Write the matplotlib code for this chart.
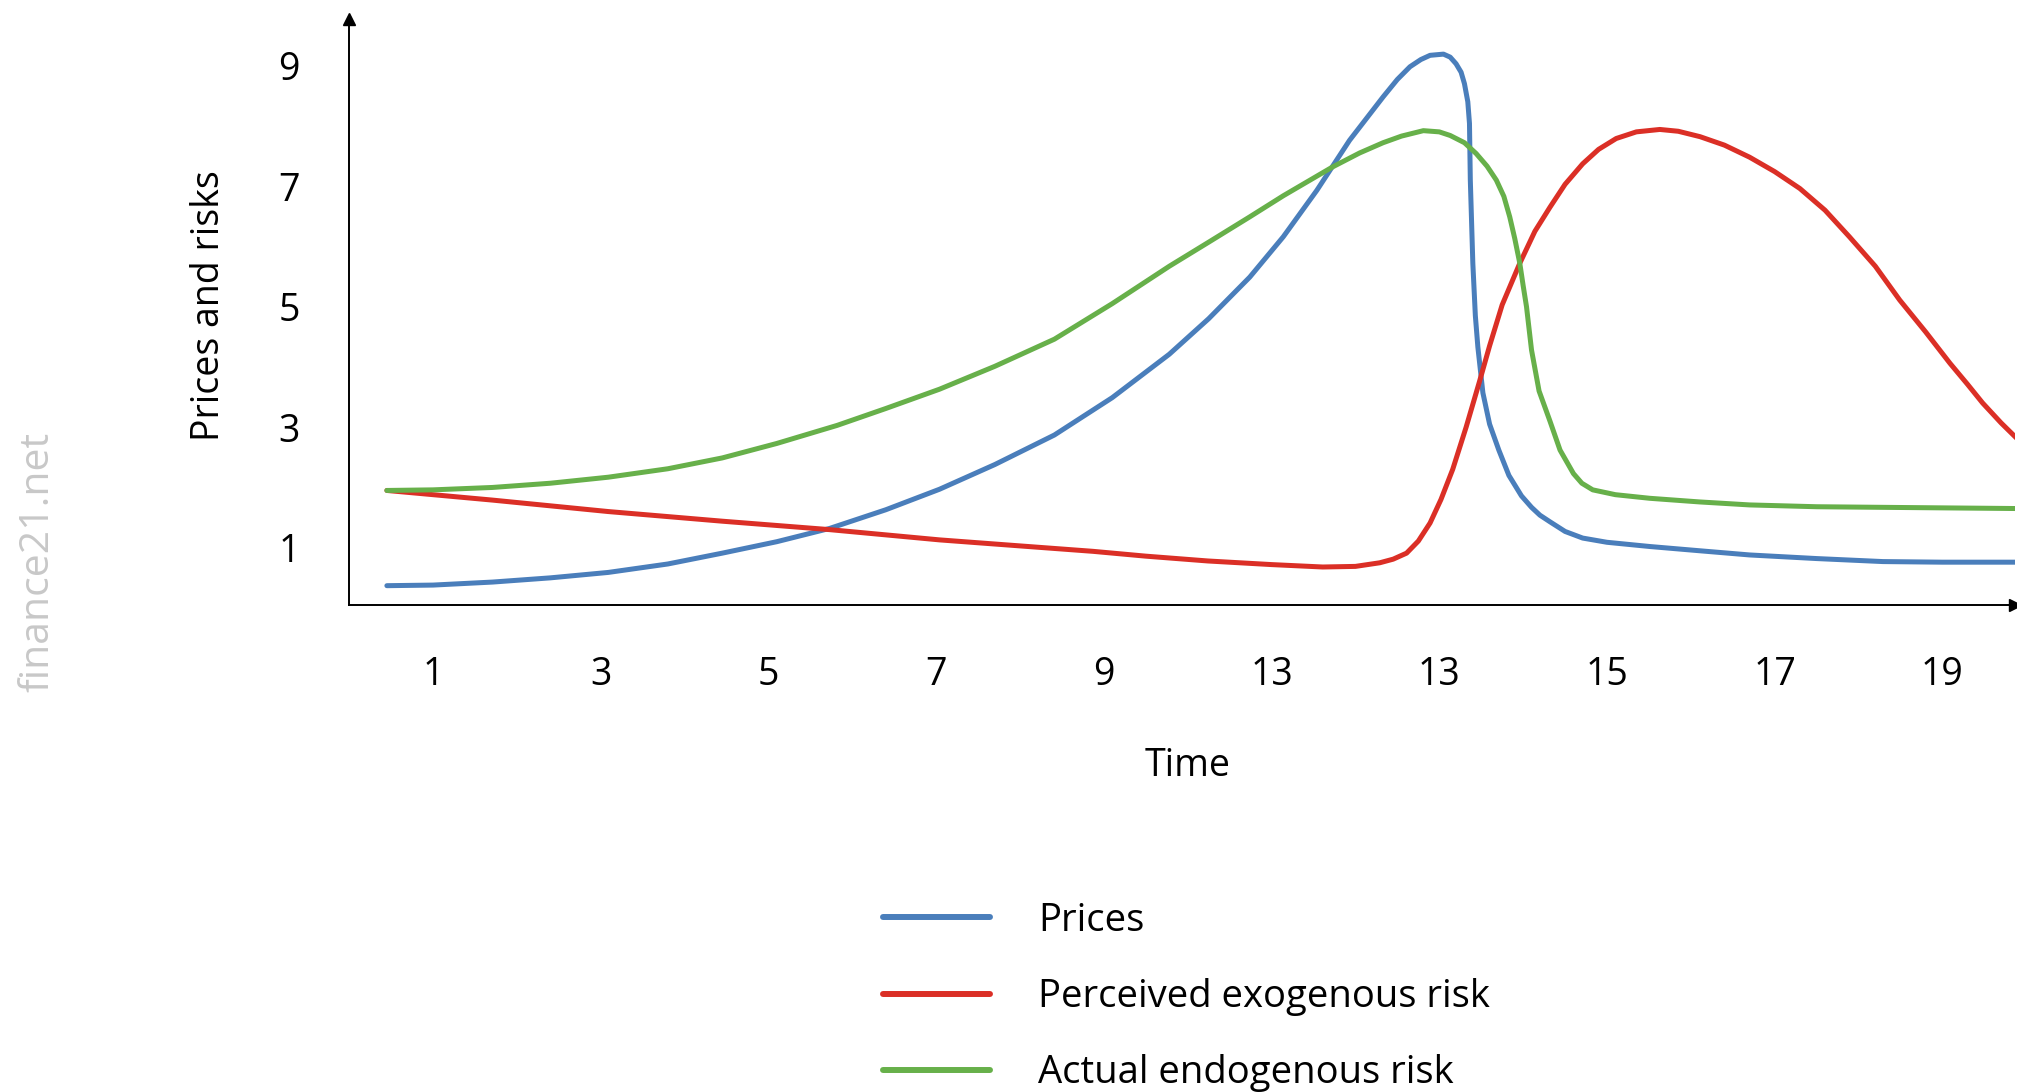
import numpy as np
import matplotlib
matplotlib.use("Agg")
import matplotlib.pyplot as plt
import matplotlib.transforms as mtransforms

plt.rcParams['font.family'] = ['Open Sans', 'DejaVu Sans']

# values (time, level)
prices_x = [0.45, 1.0, 1.71, 2.4, 3.09, 3.8, 4.45, 5.1, 5.73, 6.4, 7.04, 7.7, 8.41, 9.1, 9.78,
            10.25, 10.74, 11.14, 11.54, 11.93, 12.33, 12.5, 12.65, 12.78, 12.89, 13.05, 13.13,
            13.20, 13.26, 13.30, 13.34, 13.36, 13.37, 13.40, 13.43, 13.46, 13.52, 13.60, 13.71,
            13.83, 13.98, 14.10, 14.20, 14.32, 14.50, 14.71, 15.0, 15.51, 16.1, 16.70, 17.5,
            18.29, 19.0, 19.89]
prices_y = [0.32, 0.33, 0.38, 0.45, 0.54, 0.68, 0.86, 1.05, 1.27, 1.58, 1.92, 2.33, 2.82, 3.44, 4.16,
            4.75, 5.44, 6.11, 6.88, 7.71, 8.43, 8.72, 8.93, 9.05, 9.12, 9.14, 9.09,
            8.98, 8.84, 8.65, 8.35, 7.99, 7.05, 5.67, 4.80, 4.28, 3.52, 3.00, 2.57,
            2.15, 1.81, 1.62, 1.49, 1.38, 1.22, 1.11, 1.04, 0.97, 0.90, 0.83, 0.77,
            0.72, 0.71, 0.71]

exo_x = [0.45, 1.71, 3.09, 4.45, 5.73, 7.04, 8.0, 8.87, 9.5, 10.24, 11.0, 11.61, 12.0, 12.29,
         12.45, 12.61, 12.75, 12.89, 13.02, 13.16, 13.32, 13.48, 13.60, 13.75, 13.96, 14.14,
         14.32, 14.50, 14.71, 14.90, 15.11, 15.35, 15.63, 15.85, 16.11, 16.40, 16.70, 17.0,
         17.30, 17.60, 17.89, 18.20, 18.49, 18.80, 19.09, 19.30, 19.48, 19.70, 19.89]
exo_y = [1.90, 1.74, 1.55, 1.39, 1.25, 1.08, 0.98, 0.89, 0.81, 0.73, 0.67, 0.63, 0.64, 0.70,
         0.76, 0.86, 1.06, 1.36, 1.75, 2.25, 2.95, 3.71, 4.30, 4.98, 5.67, 6.20,
         6.60, 6.98, 7.32, 7.56, 7.74, 7.85, 7.89, 7.86, 7.77, 7.63, 7.43, 7.19,
         6.91, 6.55, 6.11, 5.62, 5.06, 4.53, 4.01, 3.66, 3.35, 3.02, 2.76]

endo_x = [0.45, 1.0, 1.71, 2.4, 3.09, 3.8, 4.45, 5.1, 5.82, 6.4, 7.04, 7.7, 8.41, 9.1, 9.78,
          10.25, 10.74, 11.14, 11.73, 12.05, 12.33, 12.55, 12.81, 13.0, 13.13, 13.30, 13.44,
          13.57, 13.68, 13.77, 13.84, 13.90, 13.96, 14.00, 14.04, 14.10, 14.19, 14.32, 14.44,
          14.60, 14.70, 14.83, 15.1, 15.51, 16.1, 16.70, 17.5, 18.29, 19.89]
endo_y = [1.90, 1.91, 1.95, 2.02, 2.12, 2.26, 2.44, 2.68, 2.98, 3.26, 3.58, 3.96, 4.41, 5.00, 5.62,
          6.02, 6.44, 6.79, 7.27, 7.50, 7.67, 7.78, 7.87, 7.85, 7.79, 7.67, 7.49,
          7.28, 7.05, 6.78, 6.44, 6.08, 5.67, 5.30, 4.95, 4.23, 3.55, 3.05, 2.57,
          2.18, 2.02, 1.91, 1.83, 1.77, 1.71, 1.66, 1.63, 1.62, 1.60]

tick_pos = [1, 3, 5, 7, 9, 11, 13, 15, 17, 19]
tick_labels = ["1", "3", "5", "7", "9", "13", "13", "15", "17", "19"]
ytick_pos = [1, 3, 5, 7, 9]

c_prices = "#4a7ebb"
c_exo = "#db2f26"
c_endo = "#67b04a"

fig = plt.figure(figsize=(20.17, 10.92), dpi=100)
ax = fig.add_axes([0.1731, 0.446, 0.8261, 0.537])

style = dict(lw=3.6, solid_capstyle="round", solid_joinstyle="round")
ax.plot(prices_x, prices_y, color=c_prices, label="Prices", **style)
ax.plot(exo_x, exo_y, color=c_exo, label="Perceived exogenous risk", **style)
ax.plot(endo_x, endo_y, color=c_endo, label="Actual endogenous risk", **style)

ax.set_xlim(0, 19.87)
ax.set_ylim(0, 9.73)
for s in ["top", "right"]:
    ax.spines[s].set_visible(False)
for s in ["left", "bottom"]:
    ax.spines[s].set_linewidth(1.4)

# arrow heads on the axes
ax.plot(0, 1, marker="^", color="black", markersize=9, transform=ax.transAxes, clip_on=False)
ax.plot(1, 0, marker=">", color="black", markersize=9, transform=ax.transAxes, clip_on=False)

ax.set_xticks(tick_pos)
ax.set_xticklabels(tick_labels)
ax.set_yticks(ytick_pos)
ax.tick_params(axis="x", length=0, pad=36.5, labelsize=27)
ax.tick_params(axis="y", length=0, pad=35.5, labelsize=27)
# digits sit a little lower in the original
shift = mtransforms.ScaledTranslation(0, -0.03, fig.dpi_scale_trans)
for lab in ax.get_yticklabels():
    lab.set_transform(lab.get_transform() + shift)

ax.set_xlabel("Time", fontsize=27)
ax.xaxis.set_label_coords(0.503, -0.2745)
ax.xaxis.label.set_va("center")
ax.set_ylabel("Prices and risks", fontsize=27)
ax.yaxis.set_label_coords(-0.084, 0.51)
ax.yaxis.label.set_va("center")

fig.text(0.019, 0.4853, "finance21.net", rotation=90, fontsize=29.5, color="#c8c8c8",
         ha="center", va="center")

leg = fig.legend(loc="center left", bbox_to_anchor=(0.4376, 0.0871), frameon=False,
                 fontsize=27.5, handlelength=2.8, handletextpad=1.28, labelspacing=1.0,
                 borderpad=0, borderaxespad=0)
for ln in leg.get_lines():
    ln.set_linewidth(4.3)

fig.savefig("out.png", dpi=100)
